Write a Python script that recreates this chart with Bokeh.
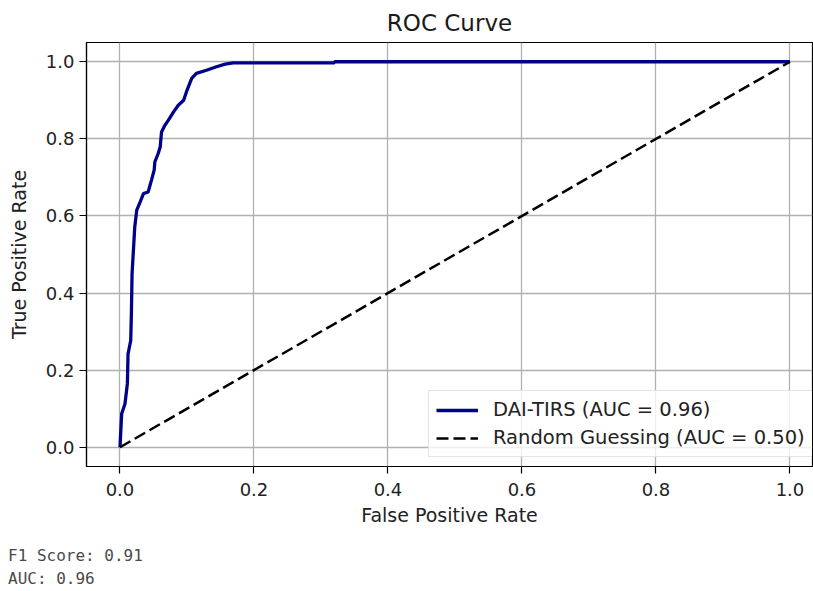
from bokeh.plotting import figure
from bokeh.models import Range1d, FixedTicker, PrintfTickFormatter, Legend, LegendItem, Div
from bokeh.layouts import column
from bokeh.embed import file_html
from bokeh.resources import INLINE

# ROC curve data
fpr = [0.0, 0.0025, 0.0075, 0.011, 0.012, 0.016, 0.017, 0.018, 0.020, 0.022, 0.025,
       0.030, 0.035, 0.042, 0.047, 0.051, 0.052, 0.057, 0.060, 0.062, 0.067, 0.072,
       0.080, 0.087, 0.095, 0.100, 0.107, 0.114, 0.129, 0.144, 0.157, 0.169, 0.320,
       0.320, 1.0]
tpr = [0.0, 0.087, 0.113, 0.165, 0.242, 0.277, 0.346, 0.450, 0.510, 0.571, 0.615,
       0.636, 0.658, 0.662, 0.693, 0.719, 0.740, 0.762, 0.779, 0.818, 0.835, 0.848,
       0.870, 0.887, 0.900, 0.926, 0.957, 0.970, 0.978, 0.987, 0.994, 0.997, 0.997,
       1.0, 1.0]
random_x = [0.0, 1.0]
random_y = [0.0, 1.0]
ticks = [0.0, 0.2, 0.4, 0.6, 0.8, 1.0]
model_label = "DAI-TIRS (AUC = 0.96)"
random_label = "Random Guessing (AUC = 0.50)"
f1_score = "0.91"
auc_score = "0.96"

FONT = "DejaVu Sans"

p = figure(width=813, height=543, output_backend="svg", toolbar_location=None,
           x_range=Range1d(-0.05, 1.0336), y_range=Range1d(-0.05, 1.05),
           min_border_left=86, min_border_right=1, min_border_top=42, min_border_bottom=77,
           background_fill_color="white", border_fill_color="white")

p.title.text = "ROC Curve"
p.title.text_font = FONT
p.title.text_font_size = "23px"
p.title.text_font_style = "normal"
p.title.text_color = "#1a1a1a"
p.title.align = "center"
p.title.offset = 4.5
p.title.standoff = 14

p.outline_line_color = "black"
p.outline_line_width = 1.2

for ax in (p.xaxis[0], p.yaxis[0]):
    ax.ticker = FixedTicker(ticks=ticks)
    ax.formatter = PrintfTickFormatter(format="%.1f")
    ax.major_tick_out = 7
    ax.major_tick_in = 0
    ax.minor_tick_out = 0
    ax.minor_tick_in = 0
    ax.major_tick_line_color = "black"
    ax.major_tick_line_width = 1.2
    ax.axis_line_color = "black"
    ax.axis_line_width = 1.2
    ax.major_label_text_font = FONT
    ax.major_label_text_font_size = "18px"
    ax.major_label_text_color = "#222222"
    ax.axis_label_text_font = FONT
    ax.axis_label_text_font_size = "19px"
    ax.axis_label_text_font_style = "normal"
    ax.axis_label_text_color = "#222222"

p.xaxis.axis_label = "False Positive Rate"
p.yaxis.axis_label = "True Positive Rate"
p.xaxis.major_label_standoff = 9
p.xaxis.axis_label_standoff = 5
p.yaxis.major_label_standoff = 5
p.yaxis.axis_label_standoff = 13

for g in (p.xgrid[0], p.ygrid[0]):
    g.ticker = FixedTicker(ticks=ticks)
    g.grid_line_color = "#b0b0b0"
    g.grid_line_width = 1.3

r1 = p.line(fpr, tpr, line_color="darkblue", line_width=3.3)
r2 = p.line(random_x, random_y, line_color="black", line_width=2.5, line_dash="12 5")

legend = Legend(items=[LegendItem(label=model_label, renderers=[r1]),
                       LegendItem(label=random_label, renderers=[r2])],
                location=(342, 9))
legend.label_text_font = FONT
legend.label_text_font_size = "19.5px"
legend.label_text_color = "#222222"
legend.glyph_width = 42
legend.glyph_height = 22
legend.label_height = 22
legend.label_standoff = 15
legend.spacing = 5
legend.padding = 7
legend.margin = 0
legend.border_line_color = "#cccccc"
legend.border_line_width = 1
legend.background_fill_color = "white"
legend.background_fill_alpha = 0.8
p.add_layout(legend)

div = Div(text=f"F1 Score: {f1_score}<br>AUC: {auc_score}", width=300, height=46,
          styles={"font-family": "'DejaVu Sans Mono', monospace", "font-size": "16px",
                  "line-height": "23px", "color": "#4a4a4a", "margin": "0",
                  "padding-left": "8px", "padding-top": "1px"})

layout = column(p, div, spacing=0)

open("out.html", "w").write(file_html(layout, INLINE))
